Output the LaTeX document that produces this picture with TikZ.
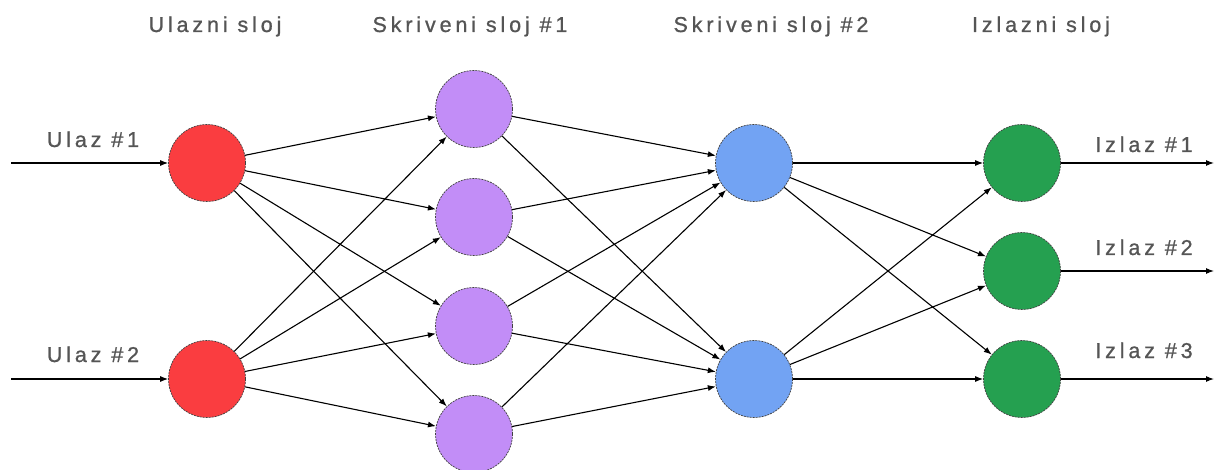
\documentclass[tikz,border=0pt]{standalone}
\usepackage{fontspec}
\setmainfont{Liberation Sans}
\newfontfamily\lblfont[LetterSpace=18,FakeBold=0.9]{Liberation Sans}
\usetikzlibrary{arrows.meta}
\definecolor{inred}{HTML}{FA3D40}
\definecolor{hpurple}{HTML}{C28DF7}
\definecolor{hblue}{HTML}{72A3F3}
\definecolor{ogreen}{HTML}{25A050}
\definecolor{txtgray}{HTML}{555555}
\tikzset{
  neuron/.style={circle, minimum size=77pt, inner sep=0pt, draw=black!75, line width=0.7pt, dash pattern=on 2pt off 1pt},
  conn/.style={line width=1.1pt, -{Latex[length=8pt,width=6pt]}},
  lbl/.style={text=txtgray, font=\lblfont\fontsize{21.5}{24}\selectfont, inner sep=0pt, anchor=base}
}
\begin{document}
\begin{tikzpicture}[x=1pt,y=-1pt]
\fill[white] (0,0) rectangle (1215,470);
\useasboundingbox (0,0) rectangle (1215,470);
% layer titles
\node[lbl] (t1) at (215,32) {Ulazni sloj};
\node[lbl] (t2) at (470,32) {Skriveni sloj \#1};
\node[lbl] (t3) at (771,32) {Skriveni sloj \#2};
\node[lbl] (t4) at (1041,32) {Izlazni sloj};
% neurons
\node[neuron, fill=inred] (i1) at (207,163) {};
\node[neuron, fill=inred] (i2) at (207,379) {};
\node[neuron, fill=hpurple] (h1) at (474,109) {};
\node[neuron, fill=hpurple] (h2) at (474,217) {};
\node[neuron, fill=hpurple] (h3) at (474,326) {};
\node[neuron, fill=hpurple] (h4) at (474,434) {};
\node[neuron, fill=hblue] (g1) at (754,163) {};
\node[neuron, fill=hblue] (g2) at (754,379) {};
\node[neuron, fill=ogreen] (o1) at (1022,163) {};
\node[neuron, fill=ogreen] (o2) at (1022,271) {};
\node[neuron, fill=ogreen] (o3) at (1022,379) {};
% free ends
\coordinate (a1) at (11,163);
\coordinate (a2) at (11,379);
\coordinate (b1) at (1214,163);
\coordinate (b2) at (1214,271);
\coordinate (b3) at (1214,379);
% io labels
\node[lbl] (l1) at (93,147) {Ulaz \#1};
\node[lbl] (l2) at (93,362) {Ulaz \#2};
\node[lbl] (r1) at (1144,152) {Izlaz \#1};
\node[lbl] (r2) at (1144,255) {Izlaz \#2};
\node[lbl] (r3) at (1144,358) {Izlaz \#3};
% connectors
\draw[conn] (a1) -- (i1);
\draw[conn] (a2) -- (i2);
\foreach \s in {i1,i2}{\foreach \t in {h1,h2,h3,h4}{\draw[conn] (\s) -- (\t);}}
\foreach \s in {h1,h2,h3,h4}{\foreach \t in {g1,g2}{\draw[conn] (\s) -- (\t);}}
\foreach \s in {g1,g2}{\foreach \t in {o1,o2,o3}{\draw[conn] (\s) -- (\t);}}
\draw[conn] (o1) -- (b1);
\draw[conn] (o2) -- (b2);
\draw[conn] (o3) -- (b3);
\end{tikzpicture}
\end{document}
